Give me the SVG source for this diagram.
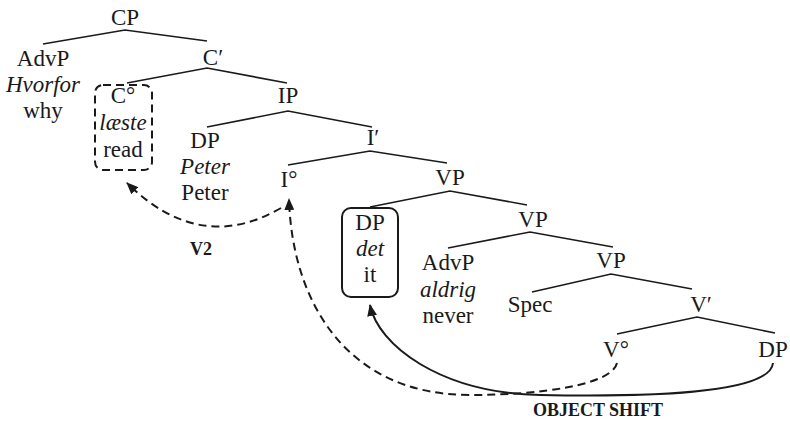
<svg xmlns="http://www.w3.org/2000/svg" width="790" height="422" viewBox="0 0 790 422">
<defs>
<style>
text{font-family:"Liberation Serif","DejaVu Serif",serif;font-size:23px;fill:#1a1a1a;text-anchor:middle}
.i{font-style:italic}
.b{font-weight:bold;font-size:18px}
.tl{stroke:#1a1a1a;stroke-width:1.6;fill:none}
.dash{stroke:#1a1a1a;stroke-width:2;fill:none;stroke-dasharray:8 5}
.sol{stroke:#1a1a1a;stroke-width:2;fill:none}
</style>
<marker id="ah" viewBox="0 0 12 10" refX="11" refY="5" markerWidth="12" markerHeight="10" markerUnits="userSpaceOnUse" orient="auto">
<path d="M0,0 L12,5 L0,10 Z" fill="#1a1a1a"/>
</marker>
</defs>
<rect width="790" height="422" fill="#fff"/>
<g id="edges">
<path class="tl" d="M43,44 L125,30 L207,41"/>
<path class="tl" d="M127,83 L207,68 L287,83"/>
<path class="tl" d="M207,127 L288,111 L372,127"/>
<path class="tl" d="M288,165 L370,151 L447,163"/>
<path class="tl" d="M370,207 L450,191 L527,205"/>
<path class="tl" d="M448,248 L530,232 L613,247"/>
<path class="tl" d="M532,292 L611,274 L692,289"/>
<path class="tl" d="M617,334 L697,317 L775,333"/>
</g>
<g id="connectors">
<path class="dash" d="M281,208 Q200,255 127,183" marker-end="url(#ah)"/>
<path class="dash" d="M617,363 C612,385 540,395 470,395 C345,395 292,300 289,199" marker-end="url(#ah)"/>
<path class="sol" d="M773,363 C770,395 640,397 540,395 C440,393 378,345 370,305" marker-end="url(#ah)"/>
</g>
<g id="CP"><text x="125" y="25">CP</text></g>
<g id="AdvP1"><text x="43" y="66">AdvP</text><text x="43" y="92" class="i">Hvorfor</text><text x="43" y="118">why</text></g>
<g id="Cbar"><text x="213" y="65">C′</text></g>
<g id="C0"><rect x="95" y="85" width="57" height="85" rx="8" class="dash"/><text x="123" y="103">C°</text><text x="123" y="130" class="i">læste</text><text x="123" y="157">read</text></g>
<g id="IP"><text x="288" y="103">IP</text></g>
<g id="DP1"><text x="205" y="148">DP</text><text x="205" y="174" class="i">Peter</text><text x="205" y="200">Peter</text></g>
<g id="Ibar"><text x="373" y="145">I′</text></g>
<g id="I0"><text x="289" y="187">I°</text></g>
<g id="VP1"><text x="450" y="185">VP</text></g>
<g id="DP2"><rect x="342" y="208" width="56" height="89" rx="9" class="sol"/><text x="370" y="230">DP</text><text x="370" y="256" class="i">det</text><text x="370" y="282">it</text></g>
<g id="VP2"><text x="533" y="227">VP</text></g>
<g id="AdvP2"><text x="448" y="270">AdvP</text><text x="448" y="297" class="i">aldrig</text><text x="448" y="323">never</text></g>
<g id="VP3"><text x="611" y="268">VP</text></g>
<g id="Spec"><text x="530" y="312">Spec</text></g>
<g id="Vbar"><text x="701" y="312">V′</text></g>
<g id="V0"><text x="616" y="357">V°</text></g>
<g id="DP3"><text x="773" y="357">DP</text></g>
<g id="labels"><text x="201" y="255" class="b">V2</text><text x="598" y="416" class="b">OBJECT SHIFT</text></g>
</svg>
